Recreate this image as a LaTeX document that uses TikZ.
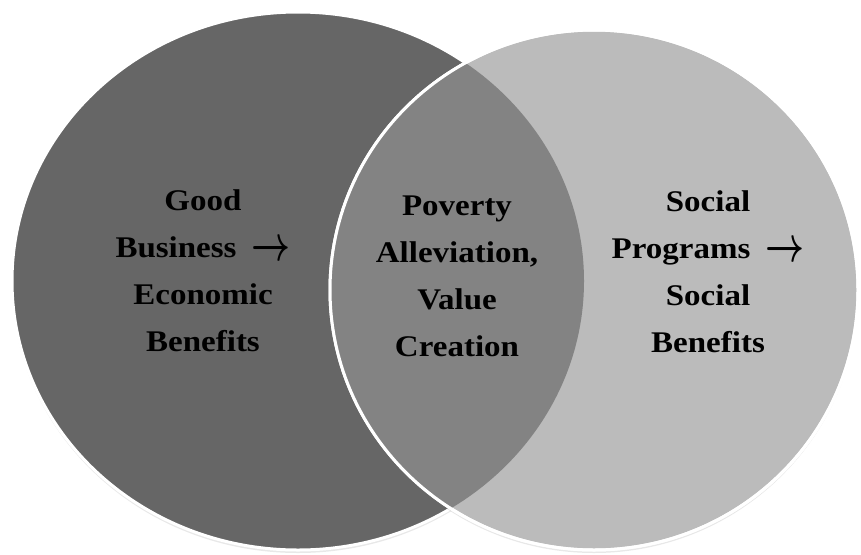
\documentclass[tikz,border=0pt]{standalone}
\usepackage{fontspec}
\usepackage{amsmath}
\setmainfont{Liberation Serif}[FakeStretch=1.1]
\usetikzlibrary{shadows}

\definecolor{leftgray}{HTML}{666666}
\definecolor{rightgray}{HTML}{BBBBBB}
\definecolor{overlapgray}{HTML}{838383}
\newcommand{\vennfont}{\bfseries\fontsize{30}{47}\selectfont}
\newcommand{\resultarrow}{\hspace{0.5em}\raisebox{-2.5pt}{\scalebox{1.36}[2.0]{$\boldsymbol{\rightarrow}$}}}

\begin{document}
\begin{tikzpicture}
[x=1pt, y=-1pt,
  ringDecorate/.style={draw=white, line width=3pt},%
  shadowDecorate/.style={drop shadow={opacity=0.18, shadow xshift=0pt, shadow yshift=-3pt}},%
  textDecorate/.style={align=center, font=\vennfont, text=black, inner sep=0pt}]
\useasboundingbox[fill=white] (0,0) rectangle (861,554);
%% circles
\path[ringDecorate, shadowDecorate, fill=leftgray]
  (298,281) ellipse [x radius=286, y radius=269];
\path[ringDecorate, shadowDecorate, fill=rightgray]
  (594,290) ellipse [x radius=264, y radius=260];
%% overlap of the two
\begin{scope}
  \clip (298,281) ellipse [x radius=286, y radius=269];
  \fill[overlapgray] (594,290) ellipse [x radius=264, y radius=260];
\end{scope}
\draw[ringDecorate] (594,290) ellipse [x radius=264, y radius=260];
%% labels
\foreach \nodename/\x/\y/\label in {
  econ/203/271/{Good\\Business\resultarrow\\Economic\\Benefits},
  poverty/457/276/{Poverty\\Alleviation,\\Value\\Creation},
  social/708/272/{Social\\Programs\resultarrow\\Social\\Benefits}}
{
  \node (\nodename) at (\x,\y) [textDecorate] {\label};
}
\end{tikzpicture}
\end{document}
